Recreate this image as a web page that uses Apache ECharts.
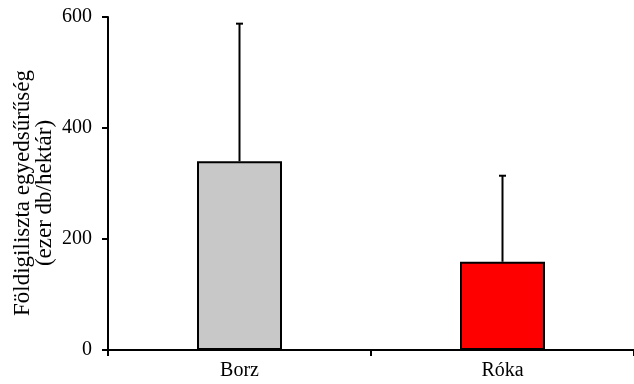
<!DOCTYPE html>
<html>
<head>
<meta charset="utf-8">
<script src="https://cdn.jsdelivr.net/npm/echarts@6/dist/echarts.min.js"></script>
<style>html,body{margin:0;padding:0;background:#fff;}#c{width:634px;height:384px;}</style>
</head>
<body>
<div id="c"></div>
<script>
var categories = ['Borz', 'Róka'];
var means = [340, 159];
var upperErrors = [588, 314];
var barColors = ['#C8C8C8', '#FF0000'];
var yTicks = [0, 200, 400, 600];
var yTitle = 'Földigiliszta egyedsűrűség\n(ezer db/hektár)';

var chart = echarts.init(document.getElementById('c'), null, {renderer: 'canvas'});
var font = 'Liberation Serif, Times New Roman, serif';

var errData = categories.map(function (c, i) { return [i, means[i], upperErrors[i]]; });

chart.setOption({
  animation: false,
  backgroundColor: '#fff',
  grid: {left: 108, top: 17, width: 531, bottom: 34, containLabel: false},
  xAxis: {
    type: 'category',
    data: categories,
    boundaryGap: true,
    axisLine: {lineStyle: {color: '#000', width: 2}},
    axisTick: {show: true, alignWithLabel: false, length: 6, lineStyle: {color: '#000', width: 2}},
    axisLabel: {color: '#000', fontFamily: font, fontSize: 20, margin: 11}
  },
  yAxis: {
    type: 'value',
    min: yTicks[0],
    max: yTicks[yTicks.length - 1],
    interval: 200,
    splitLine: {show: false},
    axisLine: {show: true, onZero: false, lineStyle: {color: '#000', width: 2}},
    axisTick: {show: true, length: 6, lineStyle: {color: '#000', width: 2}},
    axisLabel: {color: '#000', fontFamily: font, fontSize: 20, margin: 16}
  },
  graphic: [{
    type: 'text',
    x: 34,
    y: 193,
    rotation: Math.PI / 2,
    style: {
      text: yTitle,
      fill: '#000',
      font: '23px ' + font,
      textAlign: 'center',
      textVerticalAlign: 'middle',
      lineHeight: 22
    }
  }],
  series: [{
    type: 'bar',
    barWidth: 85,
    data: means.map(function (v, i) {
      return {value: v, itemStyle: {color: barColors[i]}};
    }),
    itemStyle: {borderColor: '#000', borderWidth: 2},
    z: 2
  }, {
    type: 'custom',
    data: errData,
    z: 3,
    renderItem: function (params, api) {
      var x = api.value(0);
      var base = api.coord([x, api.value(1)]);
      var top = api.coord([x, api.value(2)]);
      var style = {stroke: '#000', lineWidth: 2};
      return {
        type: 'group',
        children: [
          {type: 'line', shape: {x1: base[0], y1: base[1], x2: top[0], y2: top[1]}, style: style},
          {type: 'line', shape: {x1: top[0] - 3.5, y1: top[1], x2: top[0] + 3.5, y2: top[1]}, style: style}
        ]
      };
    }
  }]
});
</script>
</body>
</html>
